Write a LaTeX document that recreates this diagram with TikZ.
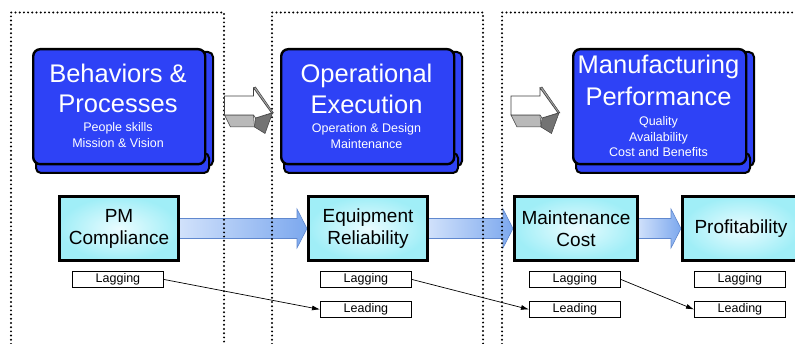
\documentclass[tikz,border=0pt]{standalone}
\usepackage{fontspec}
\setmainfont{Liberation Sans}
\usetikzlibrary{arrows.meta,calc,backgrounds}

\definecolor{faceblue}{RGB}{46,66,246}
\definecolor{kpiedge}{RGB}{160,238,247}
\definecolor{kpicore}{RGB}{234,252,255}
\definecolor{flowlight}{RGB}{210,226,251}
\definecolor{flowdark}{RGB}{124,168,238}
\definecolor{flowline}{RGB}{96,136,206}

\tikzset{
  panel/.style={line width=2.2pt, line cap=round, dash pattern=on 0pt off 4.2pt},
  slab/.style={fill=faceblue, draw=black, line width=2pt, rounded corners=5pt},
  bluebox/.style={rectangle, fill=faceblue, draw=black, line width=2.4pt,
    rounded corners=7pt, inner sep=0pt, anchor=north west},
  bigtext/.style={text=white, font=\fontsize{25.5}{30}\selectfont, anchor=base, inner sep=0pt},
  subtext/.style={text=white, font=\fontsize{12.5}{15}\selectfont, anchor=base, inner sep=0pt},
  kpi/.style={rectangle, draw=black, line width=3pt, inner color=kpicore, outer color=kpiedge,
    minimum height=64pt, anchor=north west, align=center,
    font=\fontsize{19}{22}\selectfont, inner sep=0pt},
  tag/.style={rectangle, draw=black, line width=0.9pt, fill=white, minimum width=91pt,
    minimum height=16pt, anchor=north west, inner sep=0pt, font=\fontsize{12.5}{14}\selectfont},
  link/.style={-{Latex[length=8pt,width=5pt]}, line width=0.7pt},
  flow/.style={draw=flowline, line width=0.6pt, left color=flowlight, right color=flowdark},
  turnarrow/.pic={
    \filldraw[fill=gray!55, draw=black!75, line width=0.5pt]
      (6,35) -- (35,35) -- (36,47) -- (12,47) -- cycle;
    \filldraw[fill=gray!70, draw=black!75, line width=0.5pt]
      (35,8) -- (37,7) -- (55,33) -- (53,33) -- cycle;
    \filldraw[fill=gray!110, draw=black!75, line width=0.5pt]
      (37,38) -- (54,33) -- (46.5,53.5) -- (36,47) -- cycle;
    \filldraw[fill=white, draw=black!75, line width=0.6pt]
      (6,16) -- (35,16) -- (35,8) -- (53,33) -- (37,38) -- (35,35) -- (6,35) -- cycle;
  },
}

% bevelled blue block: name, left, top, right, bottom
\newcommand\bevelbox[5]{%
  \filldraw[slab] (#4-10,#3+4) rectangle (#4+9,#5+3);
  \filldraw[slab] (#2+4,#5-10) rectangle (#4+5,#5+10);
  \node[bluebox, minimum width={#4-#2}, minimum height={#5-#3}] (#1) at (#2,#3) {};
}

% wide shaded arrow between two KPI boxes
\newcommand\flowarrow[2]{%
  \path[flow] ($(#1.east)+(-2,-10)$) -- ($(#2.west)+(-10,-10)$) -- ($(#2.west)+(-10,-19.5)$)
    -- ($(#2.west)+(0,0)$) -- ($(#2.west)+(-10,19.5)$) -- ($(#2.west)+(-10,10)$)
    -- ($(#1.east)+(-2,10)$) -- cycle;
}

\begin{document}
\begin{tikzpicture}[x=1pt,y=-1pt]
\useasboundingbox (0,0) rectangle (795,344);

% blue blocks
\bevelbox{beh}{32}{48}{204}{163}
\bevelbox{ope}{280}{48}{453}{163}
\bevelbox{man}{572}{48}{745}{163}

\node[bigtext] (beh1) at (118,83) {Behaviors \&};
\node[bigtext] (beh2) at (118,113) {Processes};
\node[subtext] (beh3) at (118,132) {People skills};
\node[subtext] (beh4) at (118,148) {Mission \& Vision};

\node[bigtext] (ope1) at (366.5,83) {Operational};
\node[bigtext] (ope2) at (366.5,114) {Execution};
\node[subtext] (ope3) at (366.5,133) {Operation \& Design};
\node[subtext] (ope4) at (366.5,149) {Maintenance};

\node[bigtext] (man1) at (658.5,74) {Manufacturing};
\node[bigtext] (man2) at (658.5,106) {Performance};
\node[subtext] (man3) at (658.5,126) {Quality};
\node[subtext] (man4) at (658.5,142) {Availability};
\node[subtext] (man5) at (658.5,157) {Cost and Benefits};

% grey 3D arrows between the blocks
\pic at (218.5,80) {turnarrow};
\pic at (505,80) {turnarrow};

% KPI boxes
\node[kpi, minimum width=119pt] (pm) at (58,195) {PM\\Compliance};
\node[kpi, minimum width=119pt] (eq) at (307,195) {Equipment\\Reliability};
\node[kpi, minimum width=123pt] (mc) at (513,195) {Maintenance\\Cost};
\node[kpi, minimum width=117pt] (pr) at (681,195) {Profitability};

\begin{scope}[on background layer]
  \flowarrow{pm}{eq}
  \flowarrow{eq}{mc}
  \flowarrow{mc}{pr}
  % dotted column frames
  \draw[panel] (11,344) -- (11,12.5) -- (224,12.5) -- (224,344);
  \draw[panel] (272,344) -- (272,12.5) -- (483,12.5) -- (483,344);
  \draw[panel] (502,344) -- (502,12.5) -- (800,12.5);
\end{scope}

% indicator tags
\node[tag] (lag1) at (72,271) {Lagging};
\node[tag] (lag2) at (320,271) {Lagging};
\node[tag] (lead2) at (320,301) {Leading};
\node[tag] (lag3) at (529,271) {Lagging};
\node[tag] (lead3) at (529,301) {Leading};
\node[tag] (lag4) at (694,271) {Lagging};
\node[tag] (lead4) at (694,301) {Leading};

\draw[link] (lag1.east) -- (lead2.west);
\draw[link] (lag2.east) -- (lead3.west);
\draw[link] (lag3.east) -- (lead4.west);
\end{tikzpicture}
\end{document}
